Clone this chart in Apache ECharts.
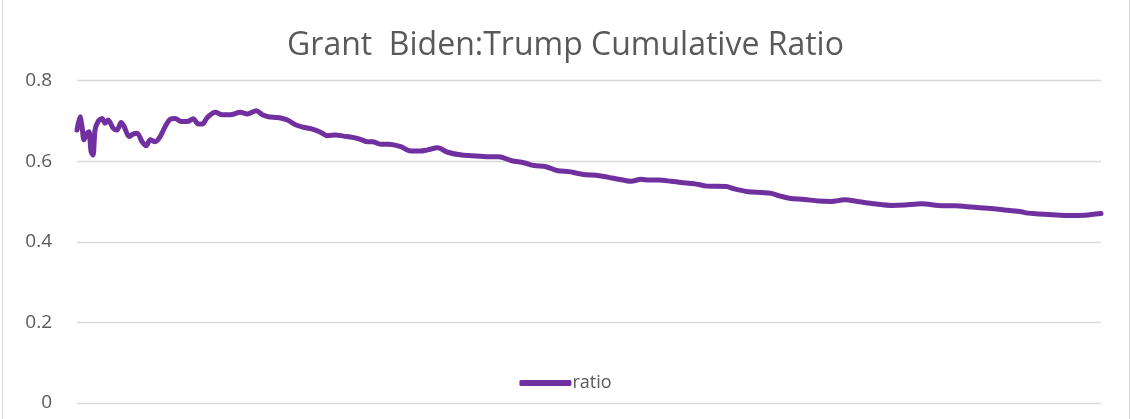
<!DOCTYPE html>
<html>
<head>
<meta charset="utf-8">
<script src="https://cdn.jsdelivr.net/npm/echarts@6/dist/echarts.min.js"></script>
<style>
  html, body { margin: 0; padding: 0; background: #fff; }
  #chart { width: 1131px; height: 419px; }
</style>
</head>
<body>
<div id="chart"></div>
<script>
// running position of each reading along the series, and the ratio there
var steps = [0, 3, 5, 7, 10, 12, 14, 16, 18, 21, 25, 28, 31, 36, 40, 44, 47, 52, 56, 60, 65, 69, 73, 78, 83,
  88, 93, 98, 103, 110, 116, 121, 125, 130, 138, 145, 153, 163, 170, 179, 185, 191, 200, 210, 218, 226,
  234, 242, 250, 258, 266, 275, 283, 290, 295, 303, 311, 323, 333, 342, 350, 360, 370, 384, 398, 413, 421,
  434, 446, 456, 468, 480, 491, 499, 509, 518, 526, 534, 545, 553, 563, 571, 581, 593, 603, 616, 629, 648,
  656, 670, 684, 693, 701, 711, 726, 740, 753, 766, 781, 796, 813, 826, 843, 860, 876, 893, 909, 926, 941,
  949, 959, 973, 990, 1006, 1022];
var ratio = [0.677, 0.710, 0.686, 0.653, 0.669, 0.673, 0.624, 0.615, 0.677, 0.698, 0.706, 0.694, 0.702,
  0.682, 0.677, 0.696, 0.686, 0.661, 0.667, 0.669, 0.648, 0.638, 0.653, 0.648, 0.661, 0.686, 0.704, 0.706,
  0.699, 0.698, 0.705, 0.692, 0.692, 0.708, 0.721, 0.715, 0.715, 0.721, 0.717, 0.725, 0.715, 0.710, 0.708,
  0.702, 0.690, 0.684, 0.680, 0.673, 0.663, 0.665, 0.662, 0.659, 0.654, 0.648, 0.648, 0.642, 0.642, 0.636,
  0.625, 0.625, 0.628, 0.633, 0.622, 0.615, 0.613, 0.611, 0.611, 0.601, 0.596, 0.589, 0.586, 0.576, 0.574,
  0.570, 0.566, 0.565, 0.562, 0.558, 0.553, 0.550, 0.555, 0.553, 0.553, 0.550, 0.547, 0.544, 0.538, 0.537,
  0.531, 0.524, 0.522, 0.520, 0.514, 0.508, 0.505, 0.501, 0.500, 0.504, 0.499, 0.494, 0.490, 0.491, 0.494,
  0.490, 0.489, 0.486, 0.483, 0.479, 0.475, 0.471, 0.469, 0.467, 0.465, 0.466, 0.470, 0.472, 0.473, 0.475,
  0.478];
var yTicks = [0, 0.2, 0.4, 0.6, 0.8];

var chart = echarts.init(document.getElementById('chart'));
var points = steps.map(function (s, i) { return [s, ratio[i]]; });

var option = {
  backgroundColor: '#fff',
  animation: false,
  textStyle: { fontFamily: 'Open Sans' },
  title: {
    text: 'Grant  Biden:Trump Cumulative Ratio',
    left: 'center',
    top: 25,
    textStyle: { fontFamily: 'Open Sans', fontWeight: 'normal', fontSize: 32, color: '#595959' }
  },
  legend: {
    bottom: 22,
    left: 'center',
    itemWidth: 52,
    itemHeight: 6,
    itemGap: 4,
    icon: 'roundRect',
    textStyle: { fontFamily: 'Open Sans', fontSize: 18, color: '#595959', padding: [0, 0, 0, -4] },
    data: ['ratio']
  },
  grid: { left: 77, right: 30, top: 80.5, bottom: 16 },
  xAxis: {
    type: 'value',
    min: 0,
    max: 1022,
    show: false
  },
  yAxis: {
    type: 'value',
    min: yTicks[0],
    max: yTicks[yTicks.length - 1],
    interval: 0.2,
    axisLine: { show: false },
    axisTick: { show: false },
    axisLabel: {
      fontFamily: 'Open Sans',
      fontSize: 19,
      color: '#595959',
      margin: 25,
      formatter: function (v) { return v === 0 ? '0' : v.toFixed(1); }
    },
    splitLine: { lineStyle: { color: '#d9d9d9', width: 1.3 } }
  },
  graphic: [{
    type: 'rect',
    shape: { x: 2.5, y: -1, width: 1127, height: 421 },
    style: { fill: 'none', stroke: '#d9d9d9', lineWidth: 1 }
  }],
  series: [{
    name: 'ratio',
    type: 'line',
    showSymbol: false,
    smooth: 0.3,
    lineStyle: { color: '#7030a0', width: 5, cap: 'round', join: 'round' },
    itemStyle: { color: '#7030a0' },
    data: points
  }]
};

chart.setOption(option);
</script>
</body>
</html>
